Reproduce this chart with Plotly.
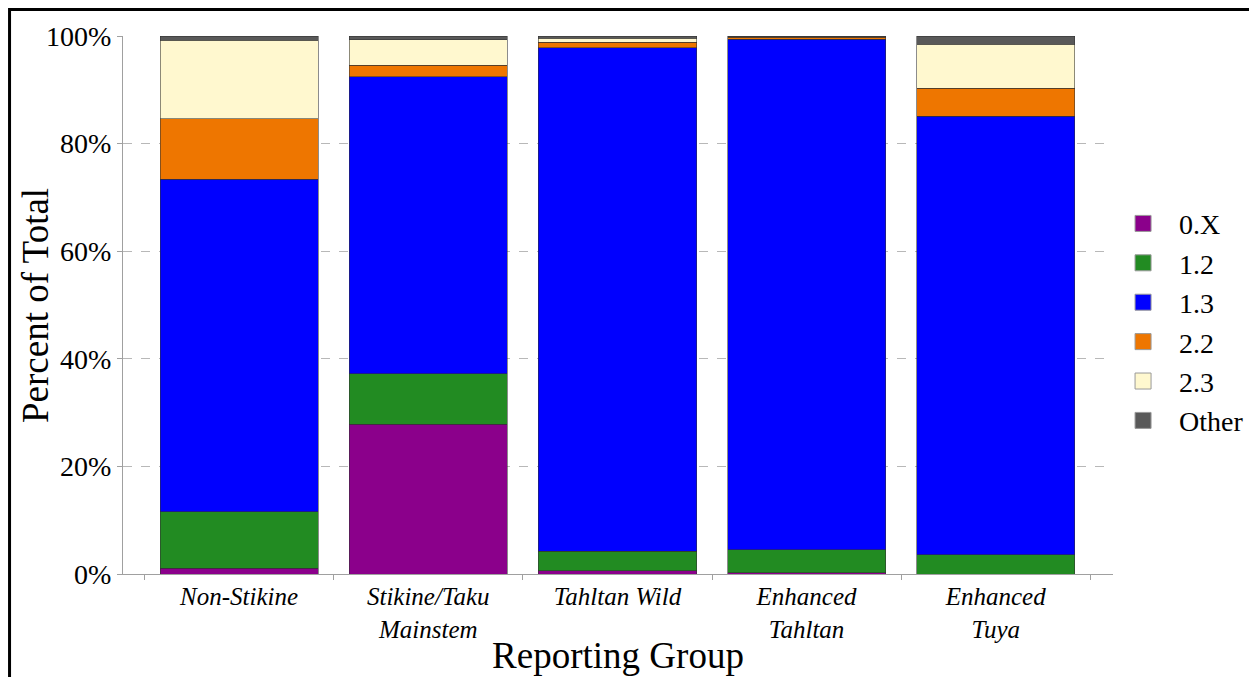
import plotly.graph_objects as go

categories = ["Non-Stikine", "Stikine/Taku Mainstem", "Tahltan Wild", "Enhanced Tahltan", "Enhanced Tuya"]
tick_labels = ["Non-Stikine", "Stikine/Taku<br>Mainstem", "Tahltan Wild", "Enhanced<br>Tahltan", "Enhanced<br>Tuya"]

age_0X = [1.1, 27.8, 0.6, 0.2, 0.0]
age_12 = [10.5, 9.4, 3.6, 4.3, 3.6]
age_13 = [61.8, 55.2, 93.6, 94.9, 81.5]
age_22 = [11.2, 2.2, 1.0, 0.4, 5.2]
age_23 = [14.6, 4.7, 0.8, 0.1, 8.2]
age_other = [0.8, 0.7, 0.4, 0.1, 1.5]

series_names = ["0.X", "1.2", "1.3", "2.2", "2.3", "Other"]
series_values = [age_0X, age_12, age_13, age_22, age_23, age_other]
series_colors = ["#8B008B", "#228B22", "#0000FF", "#EE7600", "#FFF8CF", "#595959"]

y_ticks = [0, 20, 40, 60, 80, 100]
y_tick_labels = ["0%", "20%", "40%", "60%", "80%", "100%"]

FONT = "Liberation Serif"

fig = go.Figure()
for name, vals, col in zip(series_names, series_values, series_colors):
    fig.add_trace(go.Bar(
        x=categories, y=vals, name=name, marker_color=col,
        marker_line=dict(color="rgba(50,50,50,0.7)", width=0.8),
        width=0.836, showlegend=False,
    ))
for name, col in zip(series_names, series_colors):
    fig.add_trace(go.Scatter(
        x=[None], y=[None], mode="markers", name=name, legendgroup=name,
        marker=dict(symbol="square", size=16, color=col,
                    line=dict(color="#999999", width=1)),
        showlegend=True,
    ))

fig.update_layout(
    barmode="stack",
    width=1249, height=669,
    margin=dict(l=115, r=144, t=28, b=103, autoexpand=False),
    paper_bgcolor="white", plot_bgcolor="white",
    font=dict(family=FONT, color="black"),
    legend=dict(
        x=0.994, xanchor="left", y=0.468, yanchor="middle",
        font=dict(family=FONT, size=28, color="black"),
        traceorder="normal", tracegroupgap=2,
        itemwidth=62, bgcolor="rgba(0,0,0,0)",
    ),
    xaxis=dict(
        type="category", categoryorder="array", categoryarray=categories,
        tickvals=categories, ticktext=tick_labels,
        range=[-0.614, 4.62],
        showline=True, linecolor="#a0a0a0", linewidth=1,
        ticks="outside", tickson="boundaries", ticklen=5, tickcolor="#a0a0a0",
        tickfont=dict(family=FONT, size=25, color="black", style="italic"),
        showgrid=False, zeroline=False,
        title=dict(text="Reporting Group", font=dict(family=FONT, size=37, color="black"), standoff=0),
    ),
    yaxis=dict(
        range=[0, 100], tickvals=y_ticks, ticktext=y_tick_labels,
        showline=True, linecolor="#a0a0a0", linewidth=1,
        ticks="outside", ticklen=5, tickcolor="#a0a0a0",
        tickfont=dict(family=FONT, size=28, color="black"),
        showgrid=True, gridcolor="#b8b8b8", gridwidth=1, griddash="dash",
        zeroline=False,
    ),
    annotations=[dict(
        text="Percent of Total", textangle=-90, xref="paper", yref="paper",
        x=-0.0889, y=0.5, xanchor="center", yanchor="middle", showarrow=False,
        font=dict(family=FONT, size=37, color="black"),
    )],
    shapes=[dict(
        type="rect", xref="paper", yref="paper",
        x0=-0.1146, x1=1.1424, y0=-0.25, y1=1.0493,
        line=dict(color="black", width=3), layer="above",
    )],
)

fig.write_html("out.html")
